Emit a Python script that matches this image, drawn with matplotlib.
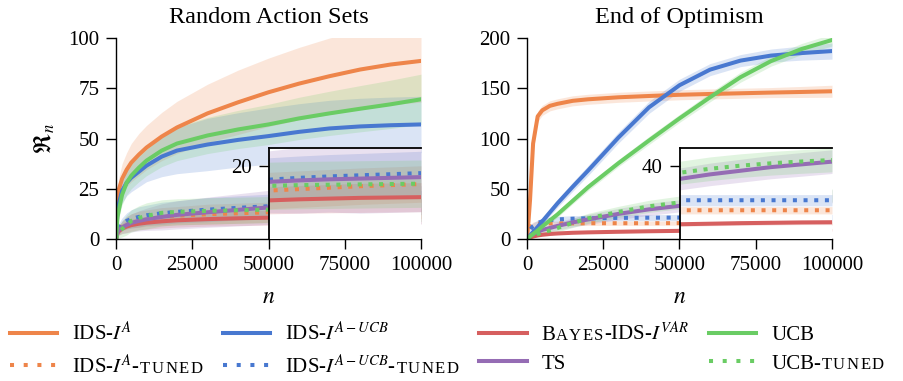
import numpy as np
import matplotlib
matplotlib.use("Agg")
import matplotlib.pyplot as plt
from matplotlib.lines import Line2D
from matplotlib.offsetbox import TextArea, HPacker

plt.rcParams["font.family"] = ["Liberation Serif", "DejaVu Serif"]
plt.rcParams["mathtext.fontset"] = "stix"

# time steps at which the averaged regret was recorded
steps = [0, 500, 1000, 2000, 3500, 5000, 7500, 10000, 15000, 20000,
         30000, 40000, 50000, 60000, 70000, 80000, 90000, 100000]

# ---- Random Action Sets: mean regret and spread ----
ras_ids_a = [0, 20, 25, 30, 34.5, 38, 42, 45.5, 51, 55.5, 62.5, 68, 73, 77.3, 81, 84.3, 86.8, 88.6]
ras_ids_a_sd = [0, 5, 6, 7.5, 8.5, 9.5, 10.5, 11, 12, 13, 14.5, 16, 17, 18, 19, 19.5, 20, 20.5]
ras_ids_a_tuned = [0, 3, 4.5, 6.5, 8.2, 9, 9.8, 10.4, 11.1, 11.6, 12.3, 12.8, 13.3, 13.7, 14.1, 14.5, 14.8, 15.1]
ras_ids_a_tuned_sd = [0, 1.5, 2, 2.5, 3, 3.5, 4, 4, 4.5, 4.5, 5, 5, 5, 5, 5, 5, 5, 5]
ras_ids_aucb = [0, 14, 18, 24, 28, 30.5, 33.5, 36.5, 41, 44, 47, 49.3, 51.2, 53.3, 55, 56, 56.6, 57]
ras_ids_aucb_sd = [0, 4, 5, 6, 6.5, 7, 7.5, 8, 10, 11.5, 13, 13.5, 14, 14, 14, 14, 14, 14]
ras_ids_aucb_tuned = [0, 4, 5.5, 7.5, 9, 10, 11, 11.8, 12.8, 13.5, 14.6, 15.5, 16.3, 16.8, 17.2, 17.5, 17.8, 18.1]
ras_ids_aucb_tuned_sd = [0, 2, 2.5, 3, 4, 4.5, 5, 5, 5.5, 5.5, 6, 6, 6, 6, 6, 6, 6, 6]
ras_bayes = [0, 3, 4, 5.2, 6.2, 6.9, 7.6, 8.1, 8.8, 9.3, 9.9, 10.3, 10.6, 10.9, 11.1, 11.3, 11.4, 11.5]
ras_bayes_sd = [0, 1.5, 2, 2.5, 3, 3, 3, 3.2, 3.3, 3.4, 3.5, 3.6, 3.7, 3.8, 3.9, 4, 4, 4]
ras_ts = [0, 3.5, 4.5, 5.8, 7, 8, 9, 9.8, 11, 12, 13.3, 14.5, 15.7, 16.1, 16.4, 16.6, 16.8, 17]
ras_ts_sd = [0, 2, 2.5, 3, 4, 4.5, 5, 5.5, 6.5, 7, 7.5, 8, 8.5, 9, 9, 9.5, 9.5, 9.5]
ras_ucb = [0, 11, 15, 22, 28, 31.5, 35.5, 39, 44, 47.5, 51.5, 54.5, 57, 60, 62.5, 64.8, 67, 69.5]
ras_ucb_sd = [0, 3, 4, 5, 6, 6.5, 7, 7.5, 8, 8.5, 9, 9.5, 10, 10.5, 11, 11.5, 12, 12.5]
ras_ucb_tuned = [0, 2.5, 3.5, 5, 7, 9, 10.5, 11.5, 13, 13.5, 14, 14.3, 14.6, 14.8, 14.9, 15, 15.1, 15.2]
ras_ucb_tuned_sd = [0, 2, 3, 4, 5, 5.5, 6, 6.5, 6.5, 6.5, 6.5, 6.5, 6.5, 6.5, 6.5, 6.5, 6.5, 6.5]

# ---- End of Optimism ----
eoo_ids_a = [0, 18, 39, 95, 122, 128, 132.5, 134.5, 137.5, 139, 141, 142.3, 143.5, 144.3, 145, 145.7, 146.3, 147]
eoo_ids_a_sd = [0, 4, 5, 6, 5, 5, 5, 5, 5, 5, 5, 5, 5, 5, 5, 5, 5.5, 6]
eoo_ids_a_tuned = [0, 8, 12, 14.5, 15.2, 15.4, 15.5, 15.6, 15.6, 15.7, 15.7, 15.7, 15.8, 15.8, 15.8, 15.8, 15.8, 15.8]
eoo_ids_a_tuned_sd = [0, 2, 2.2, 2.4, 2.4, 2.4, 2.3, 2.2, 2.2, 2.2, 2.1, 2.1, 2, 2, 2, 2, 2, 2]
eoo_ids_aucb = [0, 1.5, 3.5, 7, 12, 17.5, 26.5, 35.5, 52, 68, 101, 131, 153, 168.5, 177.5, 182.5, 185, 187]
eoo_ids_aucb_sd = [0, 1, 1.5, 2, 2.5, 3, 3.5, 4, 4.5, 5, 5.5, 6, 6, 6, 6, 6.5, 7, 8]
eoo_ids_aucb_tuned = [0, 5, 9, 13, 16, 17.5, 18.8, 19.5, 20.2, 20.6, 21, 21.2, 21.3, 21.3, 21.3, 21.3, 21.3, 21.3]
eoo_ids_aucb_tuned_sd = [0, 2, 2.5, 3, 3, 3, 3, 3, 3, 3, 3, 3, 3.1, 3.1, 3.1, 3.1, 3.1, 3.1]
eoo_bayes = [0, 0.8, 1.5, 2.5, 3.5, 4.2, 5, 5.5, 6.2, 6.6, 7.2, 7.7, 8.1, 8.4, 8.7, 8.9, 9.1, 9.2]
eoo_bayes_sd = [0, 0.5, 0.6, 0.7, 0.8, 0.8, 0.8, 0.9, 0.9, 1, 1, 1, 1.1, 1.1, 1.2, 1.2, 1.2, 1.3]
eoo_ts = [0, 1.5, 3, 5, 7, 9, 11, 13, 16.5, 19.5, 25, 29.5, 33, 35.5, 37.5, 39.5, 41, 42.5]
eoo_ts_sd = [0, 1, 1.5, 2, 2.5, 3, 3.5, 4, 4.5, 5, 5.5, 6, 6, 6.2, 6.3, 6.4, 6.5, 6.5]
eoo_ucb = [0, 1.3, 2.6, 5, 8.5, 12.5, 18.5, 24.5, 38, 51.5, 75.5, 98, 120, 141, 161, 177, 189, 198]
eoo_ucb_sd = [0, 0.5, 1, 1.5, 2, 2, 2.5, 3, 3, 3.5, 3.5, 4, 4, 4.5, 5, 5, 5.5, 6]
eoo_ucb_tuned = [0, 0.8, 1.5, 3, 5, 6.5, 8.5, 11, 16, 20.5, 27, 32.5, 36.4, 38.6, 40.3, 41.6, 42.6, 43.4]
eoo_ucb_tuned_sd = [0, 1, 1.5, 2, 2.5, 3, 3.5, 4, 4.5, 5, 5.5, 6, 6.3, 6.5, 6.5, 6.5, 6.5, 6.5]

orange, blue, red, green, purple = "#ee854a", "#4878d0", "#d65f5f", "#6acc64", "#956cb4"

# (color, linestyle) per algorithm, in legend order
styles = [(orange, "-"), (orange, ":"), (blue, "-"), (blue, ":"),
          (red, "-"), (purple, "-"), (green, "-"), (green, ":")]

ras_runs = [(ras_ids_a, ras_ids_a_sd), (ras_ids_a_tuned, ras_ids_a_tuned_sd),
            (ras_ids_aucb, ras_ids_aucb_sd), (ras_ids_aucb_tuned, ras_ids_aucb_tuned_sd),
            (ras_bayes, ras_bayes_sd), (ras_ts, ras_ts_sd),
            (ras_ucb, ras_ucb_sd), (ras_ucb_tuned, ras_ucb_tuned_sd)]
eoo_runs = [(eoo_ids_a, eoo_ids_a_sd), (eoo_ids_a_tuned, eoo_ids_a_tuned_sd),
            (eoo_ids_aucb, eoo_ids_aucb_sd), (eoo_ids_aucb_tuned, eoo_ids_aucb_tuned_sd),
            (eoo_bayes, eoo_bayes_sd), (eoo_ts, eoo_ts_sd),
            (eoo_ucb, eoo_ucb_sd), (eoo_ucb_tuned, eoo_ucb_tuned_sd)]

# legend text pieces; True marks small-caps pieces
legend_pieces = [
    [("IDS-$I^A$", False)],
    [("IDS-$I^A$-", False), ("TUNED", True)],
    [("IDS-$I^{A-UCB}$", False)],
    [("IDS-$I^{A-UCB}$-", False), ("TUNED", True)],
    [("B", False), ("AYES", True), ("-IDS-$I^{VAR}$", False)],
    [("TS", False)],
    [("UCB", False)],
    [("UCB-", False), ("TUNED", True)],
]

TICK = 15
LW = 2.9


def draw_runs(ax, runs):
    x = np.array(steps)
    for (mean, sd), (col, ls) in zip(runs, styles):
        mean, sd = np.array(mean), np.array(sd)
        ax.fill_between(x, mean - sd, mean + sd, color=col, alpha=0.2, lw=0)
        ax.plot(x, mean, color=col, ls=ls, lw=LW)


def style_axis(ax):
    for s in ["top", "right"]:
        ax.spines[s].set_visible(False)
    for s in ["left", "bottom"]:
        ax.spines[s].set_linewidth(1.0)
    ax.tick_params(length=7, width=1.0, pad=5, labelsize=TICK)


def caps_box(text, size):
    # fake small caps: shrunken capitals with a little letter spacing
    letters = [TextArea(ch, textprops=dict(fontsize=size * 0.8)) for ch in text]
    return HPacker(children=letters, pad=0, sep=1.1, align="baseline")


fig = plt.figure(figsize=(9.04, 3.81), dpi=100)
ax1 = fig.add_axes([116 / 904, 1 - 239 / 381, 305 / 904, 201 / 381])
ax2 = fig.add_axes([527 / 904, 1 - 239 / 381, 305 / 904, 201 / 381])

panels = [(ax1, ras_runs, "Random Action Sets", 100, 25, 20),
          (ax2, eoo_runs, "End of Optimism", 200, 50, 40)]

for ax, runs, title, ytop, inset_top, inset_tick in panels:
    draw_runs(ax, runs)
    ax.set_xlim(0, 100000)
    ax.set_ylim(0, ytop)
    ax.set_xticks([0, 25000, 50000, 75000, 100000])
    ax.set_yticks(np.linspace(0, ytop, 5))
    style_axis(ax)
    ax.set_title(title, fontsize=17.5, pad=11)
    ax.set_xlabel("$n$", fontsize=17, labelpad=9)

    # zoomed view of the low-regret algorithms
    ins = ax.inset_axes([0.5, 0, 0.5, 91 / 201])
    ins.set_facecolor("white")
    draw_runs(ins, runs)
    ins.set_xlim(50000, 100000)
    ins.set_ylim(0, inset_top)
    ins.set_xticks([])
    ins.set_yticks([inset_tick])
    ins.spines["right"].set_visible(False)
    ins.spines["bottom"].set_visible(False)
    for s in ["top", "left"]:
        ins.spines[s].set_linewidth(1.3)
    ins.tick_params(length=7, width=1.0, pad=5, labelsize=TICK)

ax1.set_ylabel(r"$\mathfrak{R}_n$", fontsize=17, labelpad=8)

handles = [Line2D([], [], color=c, ls=(ls if ls == "-" else (0, (1, 2.4))), lw=LW)
           for c, ls in styles]
leg = fig.legend(handles, [" "] * len(handles), ncol=4, loc="center",
                 bbox_to_anchor=(447 / 904, 1 - 349.5 / 381), frameon=False,
                 fontsize=TICK, handlelength=2.26, handletextpad=0.72,
                 columnspacing=1.0, labelspacing=0.45, borderpad=0)

# swap plain labels for boxes that mix full-size and small-caps text
items = [it for col in leg._legend_handle_box.get_children() for it in col.get_children()]
for item, parts in zip(items, legend_pieces):
    boxes = [caps_box(txt, TICK) if sc else TextArea(txt, textprops=dict(fontsize=TICK))
             for txt, sc in parts]
    item.get_children()[1] = HPacker(children=boxes, pad=0, sep=0, align="baseline")
leg._legend_box.set_figure(fig)

fig.savefig("out.png", dpi=100)
